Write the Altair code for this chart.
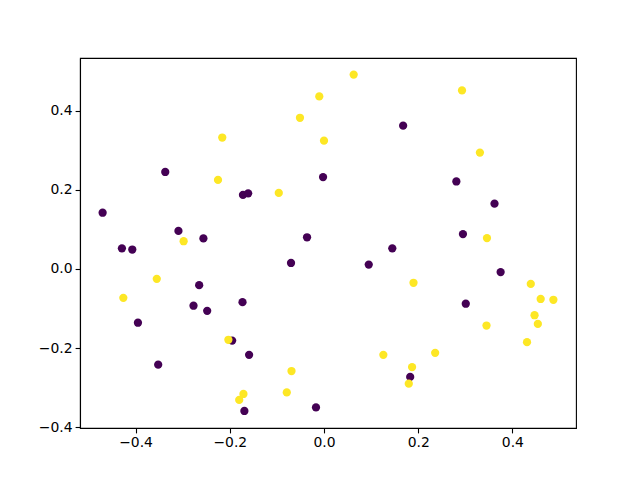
import altair as alt
import pandas as pd

purple_x = [-0.337, -0.172, -0.161, -0.002, -0.470, -0.309, -0.256, -0.036, 0.168, 0.281,
            0.362, 0.295, -0.429, -0.407, -0.070, -0.265, -0.277, -0.248, -0.173, -0.395,
            -0.195, -0.159, -0.352, -0.169, -0.017, 0.145, 0.095, 0.375, 0.301, 0.183]
purple_y = [0.245, 0.187, 0.191, 0.232, 0.142, 0.096, 0.077, 0.080, 0.362, 0.221,
            0.165, 0.088, 0.052, 0.049, 0.015, -0.041, -0.093, -0.106, -0.084, -0.136,
            -0.181, -0.217, -0.242, -0.359, -0.350, 0.052, 0.011, -0.008, -0.088, -0.273]
yellow_x = [-0.010, -0.051, -0.216, 0.000, -0.225, -0.096, -0.298, 0.063, 0.293, 0.331,
            0.346, -0.355, -0.426, -0.203, -0.069, -0.171, -0.180, -0.079, 0.190, 0.439,
            0.460, 0.487, 0.447, 0.345, 0.454, 0.431, 0.126, 0.236, 0.187, 0.180]
yellow_y = [0.436, 0.382, 0.332, 0.324, 0.225, 0.192, 0.070, 0.491, 0.451, 0.294,
            0.078, -0.025, -0.073, -0.179, -0.258, -0.316, -0.331, -0.312, -0.035, -0.038,
            -0.076, -0.078, -0.117, -0.143, -0.139, -0.185, -0.217, -0.212, -0.248, -0.290]

classes = ["0", "1"]
colors = ["#440154", "#fde725"]
tick_vals = [-0.4, -0.2, 0.0, 0.2, 0.4]

df = pd.DataFrame({
    "x": purple_x + yellow_x,
    "y": purple_y + yellow_y,
    "c": [classes[0]] * len(purple_x) + [classes[1]] * len(yellow_x),
    "order": list(range(len(purple_x) + len(yellow_x))),
})

axis_common = dict(
    grid=False,
    values=tick_vals,
    format=".1f",
    labelFont="DejaVu Sans",
    labelFontSize=13.9,
    labelColor="black",
    tickColor="black",
    tickSize=4.9,
    tickWidth=1.1,
    labelPadding=3,
    domainColor="black",
    domainWidth=1.1,
    title=None,
)

chart = alt.Chart(df).mark_circle(size=68, opacity=1).encode(
    x=alt.X("x:Q", scale=alt.Scale(domain=[-0.518, 0.535], nice=False, zero=False),
            axis=alt.Axis(**axis_common)),
    y=alt.Y("y:Q", scale=alt.Scale(domain=[-0.402, 0.533], nice=False, zero=False),
            axis=alt.Axis(**axis_common)),
    color=alt.Color("c:N", scale=alt.Scale(domain=classes, range=colors), legend=None),
    order=alt.Order("order:Q"),
).properties(
    width=496,
    height=370,
    autosize=alt.AutoSizeParams(type="none"),
    padding={"left": 72, "top": 50, "right": 56, "bottom": 45},
).configure_view(
    stroke="black",
    strokeWidth=1.1,
)

chart.save("out.html", embed_options={"renderer": "svg", "actions": False})
